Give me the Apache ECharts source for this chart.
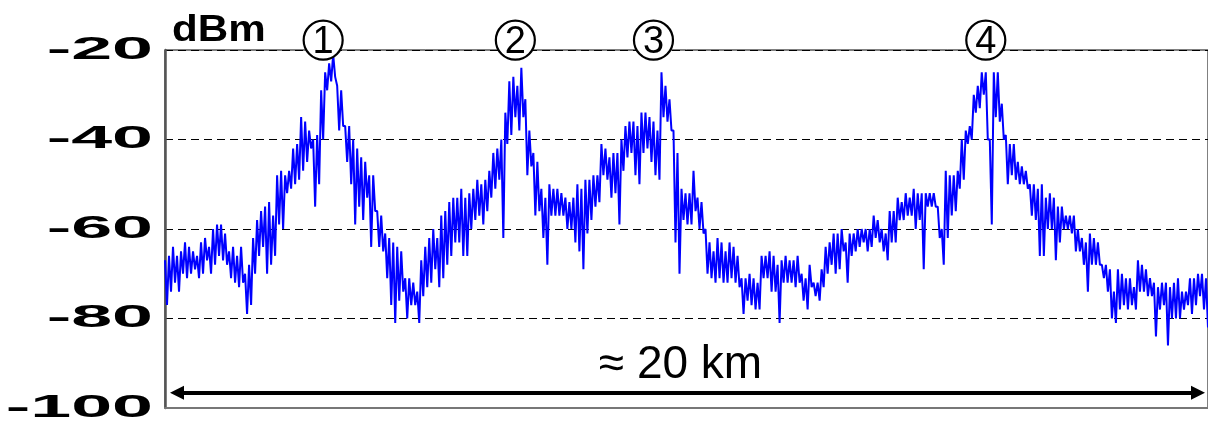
<!DOCTYPE html>
<html><head><meta charset="utf-8">
<script src="https://cdn.jsdelivr.net/npm/echarts@6/dist/echarts.min.js"></script>
<style>html,body{margin:0;padding:0;background:#fff}#c{width:1208px;height:422px}</style>
</head><body><div id="c"></div>
<script>
// Received power (dBm): upper and lower edge of the noisy trace
// in each ~4 px column, left to right, in six stretches
const hi1 = [-67,-66,-64,-66,-65,-63,-64,-65,-66,-63,-62,-64,-60,-59,-59,-61,-65,-64,-66,-64,-70,-68,-62,-58,-56,-55,-54,-57,-48,-47,-48,-47,-42,-41,-35,-36,-38,-40,-39,-29,-25,-23,-21,-28];
const lo1 = [-77,-74,-72,-74,-70,-71,-70,-69,-71,-70,-67,-70,-68,-66,-67,-68,-71,-72,-73,-72,-79,-77,-70,-66,-64,-70,-68,-66,-59,-60,-52,-51,-50,-49,-47,-45,-42,-55,-50,-40,-29,-27,-26,-38];
const hi2 = [-29,-37,-37,-40,-42,-44,-45,-48,-48,-56,-57,-61,-62,-63,-64,-65,-71,-71,-72,-74,-67,-64,-62,-60,-62,-57,-56,-54,-53,-53,-51,-53,-52,-51,-49,-50,-49,-47,-43,-42,-40,-34,-27,-26];
const lo2 = [-37,-45,-50,-59,-55,-58,-53,-64,-56,-64,-65,-71,-77,-81,-76,-74,-80,-77,-77,-81,-75,-73,-72,-69,-73,-71,-68,-66,-63,-63,-66,-66,-60,-58,-57,-59,-56,-53,-51,-49,-62,-41,-39,-35];
const hi3 = [-28,-24,-31,-38,-43,-45,-51,-53,-50,-51,-51,-52,-53,-54,-53,-50,-51,-49,-49,-48,-48,-41,-42,-44,-43,-43,-40,-37,-36,-36,-37,-34,-34,-35,-36,-38,-25,-28,-31,-38,-43,-51,-52,-52];
const lo3 = [-38,-35,-48,-46,-57,-56,-62,-68,-57,-57,-57,-57,-60,-60,-63,-65,-69,-61,-58,-55,-54,-48,-49,-53,-52,-59,-47,-44,-43,-48,-50,-43,-42,-45,-48,-49,-35,-36,-38,-63,-70,-58,-59,-59];
const hi4 = [-47,-53,-54,-60,-63,-65,-62,-63,-65,-63,-64,-66,-71,-71,-70,-71,-72,-66,-66,-65,-66,-68,-67,-66,-67,-67,-66,-70,-71,-68,-72,-72,-69,-64,-63,-61,-61,-60,-63,-61,-61,-60,-60];
const lo4 = [-56,-60,-61,-70,-71,-72,-71,-72,-72,-71,-72,-73,-79,-76,-77,-78,-78,-71,-71,-74,-74,-81,-72,-72,-72,-73,-72,-76,-78,-73,-75,-76,-73,-70,-68,-70,-69,-65,-72,-66,-65,-64,-63];
const hi5 = [-60,-60,-57,-58,-60,-61,-56,-56,-53,-54,-52,-53,-51,-52,-52,-52,-52,-52,-55,-60,-47,-48,-48,-47,-40,-38,-37,-30,-28,-25,-25,-40,-25,-25,-32,-39,-41,-41,-45,-46,-47,-50,-50,-51];
const lo5 = [-65,-64,-62,-63,-65,-67,-63,-63,-58,-58,-57,-57,-60,-58,-69,-55,-55,-55,-62,-68,-62,-57,-56,-51,-49,-41,-40,-34,-33,-30,-40,-59,-35,-36,-40,-50,-48,-49,-50,-50,-51,-57,-58,-66];
const hi6 = [-50,-53,-52,-53,-55,-55,-57,-57,-57,-60,-62,-63,-61,-62,-63,-68,-68,-69,-74,-69,-70,-71,-71,-73,-67,-68,-69,-71,-72,-73,-72,-72,-73,-72,-71,-74,-74,-71,-71,-70,-70,-71];
const lo6 = [-66,-60,-60,-67,-63,-60,-60,-61,-65,-65,-68,-74,-68,-68,-68,-71,-74,-80,-81,-78,-77,-78,-77,-78,-74,-74,-75,-75,-84,-78,-77,-86,-80,-80,-80,-78,-77,-79,-77,-75,-78,-82];

const upper = [].concat(hi1, hi2, hi3, hi4, hi5, hi6);
const lower = [].concat(lo1, lo2, lo3, lo4, lo5, lo6);
const power = [];
upper.forEach((v, i) => { power.push(v, lower[i]); });
const samples = power.map((_, i) => String(i));

const yTicks = [-20, -40, -60, -80, -100];
const peakNames = ['1', '2', '3', '4'];
const peakIndex = [79, 175, 244, 410];
const peakLevel = -17.8;
const arrowLevel = -96.6;
const arrowFrom = 6, arrowTo = power.length - 6;
const spanLabel = '≈ 20 km';
const unitLabel = 'dBm';

const chart = echarts.init(document.getElementById('c'), null, {renderer: 'canvas'});
chart.setOption({
  animation: false,
  backgroundColor: '#fff',
  grid: {left: 165, right: -2, top: 50, bottom: 14, show: true, borderColor: '#000', borderWidth: 1, backgroundColor: 'transparent'},
  xAxis: {
    type: 'category', data: samples, boundaryGap: false, z: 3,
    axisLine: {show: true, lineStyle: {color: '#777', width: 2}},
    axisTick: {show: false}, axisLabel: {show: false}, splitLine: {show: false}
  },
  yAxis: {
    type: 'value', min: -100, max: -20, interval: 20, z: 2,
    axisLine: {show: true, lineStyle: {color: '#555', width: 2.5}},
    axisTick: {show: false}, axisLabel: {show: false},
    splitLine: {show: true, lineStyle: {color: '#000', width: 1, type: [8, 5]}}
  },
  series: [{
    type: 'line', data: power, symbol: 'none', silent: true,
    lineStyle: {color: '#0000ff', width: 2},
    markLine: {
      silent: true,
      symbol: ['triangle', 'triangle'], symbolSize: [14, 14],
      lineStyle: {color: '#000', width: 4, type: 'solid'},
      label: {show: true, position: 'insideMiddleTop', distance: 4, offset: [-7, 0], formatter: spanLabel, color: '#000', fontSize: 46, fontFamily: 'Liberation Sans'},
      data: [[{coord: [arrowFrom, arrowLevel]}, {coord: [arrowTo, arrowLevel]}]]
    }
  }]
});

const g = yTicks.map(v => ({
  type: 'text', x: 153, y: chart.convertToPixel({yAxisIndex: 0}, v), scaleX: 2.3, silent: true,
  style: {text: String(v), align: 'right', verticalAlign: 'middle', fill: '#000', font: 'bold 32px "Liberation Sans"'}
}));
g.push({type: 'text', x: 172, y: 12, scaleX: 1.14, silent: true, style: {text: unitLabel, fill: '#000', font: 'bold 37px "Liberation Sans"'}});
peakNames.forEach((n, i) => {
  const p = chart.convertToPixel({seriesIndex: 0}, [peakIndex[i], peakLevel]);
  g.push({type: 'circle', z: 10, silent: true, shape: {cx: p[0], cy: p[1], r: 19.5}, style: {fill: '#fff', stroke: '#000', lineWidth: 2.2}});
  g.push({type: 'text', z: 11, silent: true, x: p[0], y: p[1] + 2, style: {text: n, align: 'center', verticalAlign: 'middle', fill: '#000', font: '38px "Liberation Sans"'}});
});
chart.setOption({graphic: g});
</script></body></html>
